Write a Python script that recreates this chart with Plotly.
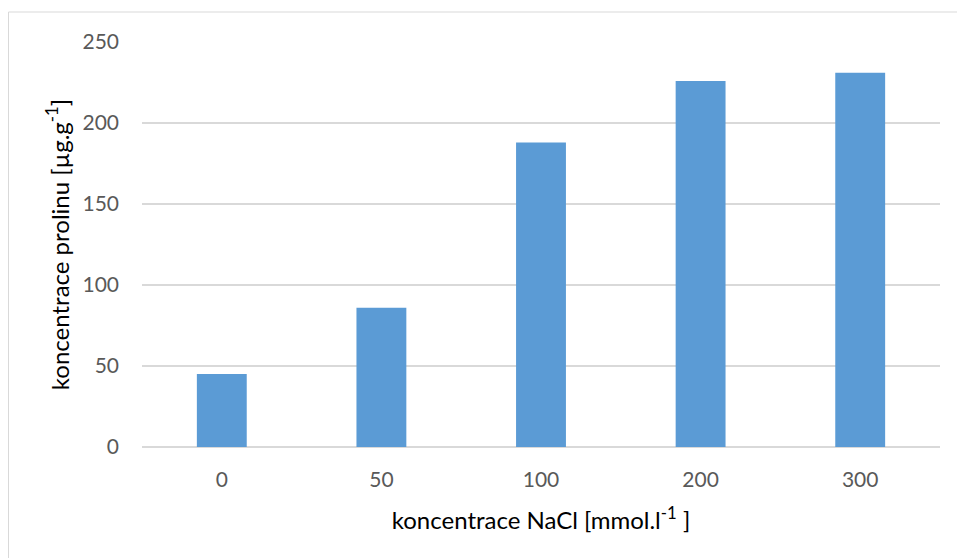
import plotly.graph_objects as go

categories = ["0", "50", "100", "200", "300"]
values = [45, 86, 188, 226, 231]
y_ticks = [0, 50, 100, 150, 200, 250]

fig = go.Figure()
fig.add_trace(go.Bar(x=categories, y=values, marker=dict(color="#5b9bd5", line=dict(width=0))))

L, R, T, B = 142, 17, 42, 111
W, H = 957, 558
pw, ph = W - L - R, H - T - B

fig.update_layout(
    width=W, height=H,
    margin=dict(l=L, r=R, t=T, b=B, pad=0),
    paper_bgcolor="white", plot_bgcolor="white",
    bargap=0.6875,
    showlegend=False,
    font=dict(family="Lato, Open Sans, sans-serif", size=21, color="#595959"),
    xaxis=dict(
        type="category", showgrid=False, showline=False, zeroline=False,
        ticks="", ticklabelstandoff=18,
        tickfont=dict(size=21, color="#595959"),
        title=dict(text="koncentrace NaCl [mmol.l<sup>-1</sup> ]", font=dict(size=24, color="#000000"), standoff=22),
    ),
    yaxis=dict(
        range=[0, 250], tickvals=y_ticks, showgrid=True, gridcolor="#d9d9d9", gridwidth=1.5,
        zeroline=True, zerolinecolor="#d9d9d9", zerolinewidth=1.5, showline=False,
        ticks="", ticklabelstandoff=22,
        tickfont=dict(size=21, color="#595959"),
        title=dict(text="koncentrace prolinu [µg.g<sup>-1</sup>]", font=dict(size=24, color="#000000"), standoff=6),
    ),
    shapes=[dict(
        type="rect", xref="paper", yref="paper",
        x0=(8.5 - L) / pw, x1=(W + 20 - L) / pw,
        y0=-(H - T - ph + 20) / ph, y1=1 + (T - 12) / ph,
        line=dict(color="#d9d9d9", width=1), fillcolor="rgba(0,0,0,0)", layer="below",
    )],
)

fig.write_html("out.html")
